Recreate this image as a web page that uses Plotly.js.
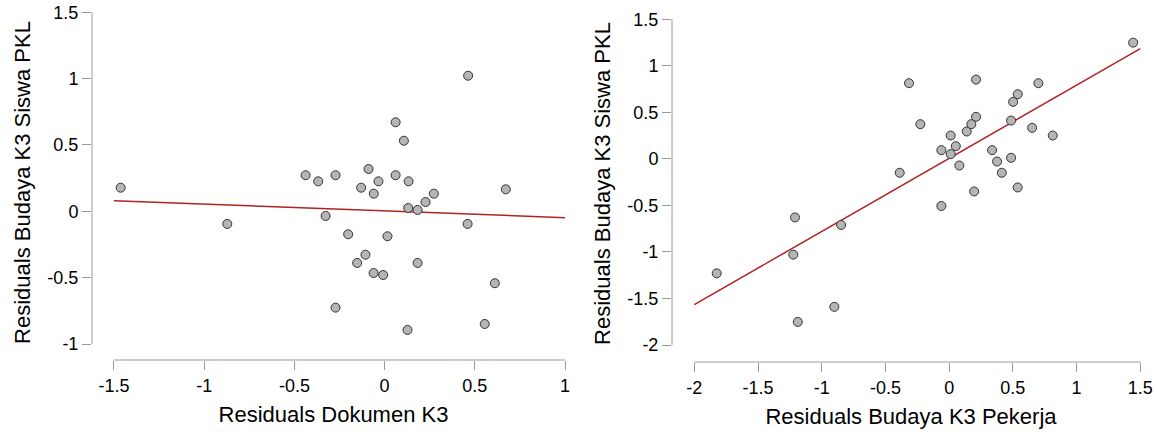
<!DOCTYPE html>
<html>
<head>
<meta charset="utf-8">
<script src="https://cdn.plot.ly/plotly-3.0.1.min.js"></script>
<style>
  html, body { margin: 0; padding: 0; background: #fff; }
  #chart { width: 1157px; height: 434px; }
</style>
</head>
<body>
<div id="chart"></div>
<script>
// ---- Data ----
const leftX = [-1.463,-0.872,-0.438,-0.368,-0.272,-0.327,-0.272,-0.202,-0.130,-0.089,-0.060,-0.034,-0.106,-0.152,-0.061,-0.008,0.016,0.061,0.107,0.061,0.133,0.131,0.183,0.183,0.127,0.227,0.273,0.463,0.460,0.611,0.555,0.672];
const leftY = [0.178,-0.095,0.272,0.226,0.272,-0.035,-0.726,-0.173,0.178,0.319,0.133,0.226,-0.327,-0.389,-0.465,-0.480,-0.188,0.671,0.532,0.272,0.226,0.025,0.010,-0.389,-0.894,0.070,0.133,1.022,-0.095,-0.542,-0.849,0.166];
const leftFitX = [-1.5, 1.0];
const leftFitY = [0.080, -0.048];

const rightX = [-1.824,-1.210,-1.223,-1.188,-0.848,-0.901,-0.388,-0.315,-0.226,-0.061,-0.061,0.012,0.012,0.052,0.080,0.138,0.174,0.211,0.211,0.196,0.337,0.376,0.413,0.486,0.486,0.502,0.538,0.538,0.651,0.700,0.813,1.444];
const rightY = [-1.230,-0.629,-1.029,-1.752,-0.710,-1.590,-0.149,0.813,0.373,0.094,-0.506,0.251,0.051,0.137,-0.071,0.294,0.373,0.452,0.852,-0.350,0.094,-0.028,-0.149,0.012,0.412,0.613,0.695,-0.307,0.334,0.813,0.251,1.249];
const rightFitX = [-2.0, 1.5];
const rightFitY = [-1.566, 1.185];

const leftXTicks = [-1.5, -1, -0.5, 0, 0.5, 1];
const leftYTicks = [-1, -0.5, 0, 0.5, 1, 1.5];
const rightXTicks = [-2, -1.5, -1, -0.5, 0, 0.5, 1, 1.5];
const rightYTicks = [-2, -1.5, -1, -0.5, 0, 0.5, 1, 1.5];

const xTitleLeft = "Residuals Dokumen K3";
const xTitleRight = "Residuals Budaya K3 Pekerja";
const yTitle = "Residuals Budaya K3 Siswa PKL";

// ---- Styling ----
const W = 1157, H = 434;
const FONT = "Liberation Sans, Arial, sans-serif";
const AXIS_COL = "#9a9a9a";
const markerStyle = { size: 9, color: "#b5b5b5", line: { color: "#333333", width: 1 } };
const lineStyle = { color: "#b22222", width: 1.5 };

function lbl(v) { return String(v); }

const traces = [
  { x: leftFitX, y: leftFitY, xaxis: "x", yaxis: "y", mode: "lines", line: lineStyle, hoverinfo: "skip" },
  { x: leftX, y: leftY, xaxis: "x", yaxis: "y", mode: "markers", marker: markerStyle },
  { x: rightFitX, y: rightFitY, xaxis: "x2", yaxis: "y2", mode: "lines", line: lineStyle, hoverinfo: "skip" },
  { x: rightX, y: rightY, xaxis: "x2", yaxis: "y2", mode: "markers", marker: markerStyle }
];

function axisCommon(tickvals, extra) {
  return Object.assign({
    tickmode: "array",
    tickvals: tickvals,
    ticktext: tickvals.map(lbl),
    ticks: "outside",
    ticklen: 9,
    tickwidth: 1,
    tickcolor: AXIS_COL,
    showline: false,
    showgrid: false,
    zeroline: false,
    tickfont: { family: FONT, size: 18, color: "#000" },
    fixedrange: true
  }, extra);
}

// plot-area pixel boxes
const L1 = 92, R1 = 575, L2 = 672, R2 = 1150;
const T = 5, B1 = 360, B2 = 362;

const layout = {
  width: W, height: H,
  margin: { l: 0, r: 0, t: 0, b: 0 },
  paper_bgcolor: "#fff",
  plot_bgcolor: "#fff",
  showlegend: false,
  font: { family: FONT, color: "#000" },
  xaxis: axisCommon(leftXTicks, {
    domain: [L1 / W, R1 / W],
    range: [-1.5 - 22 / 180.5, 1 + 10 / 180.5],
    anchor: "y",
    title: { text: xTitleLeft, font: { family: FONT, size: 22, color: "#000" }, standoff: 12 }
  }),
  yaxis: axisCommon(leftYTicks, {
    domain: [1 - B1 / H, 1 - T / H],
    range: [-1 - 16 / 132.7, 1.5 + 7.3 / 132.7],
    anchor: "x",
    title: { text: yTitle, font: { family: FONT, size: 22, color: "#000" }, standoff: 10 }
  }),
  xaxis2: axisCommon(rightXTicks, {
    domain: [L2 / W, R2 / W],
    range: [-2 - 22.3 / 127.43, 1.5 + 9.7 / 127.43],
    anchor: "y2",
    title: { text: xTitleRight, font: { family: FONT, size: 22, color: "#000" }, standoff: 12 }
  }),
  yaxis2: axisCommon(rightYTicks, {
    domain: [1 - B2 / H, 1 - T / H],
    range: [-2 - 17 / 93.14, 1.5 + 14.3 / 93.14],
    anchor: "x2",
    title: { text: yTitle, font: { family: FONT, size: 22, color: "#000" }, standoff: 10 }
  }),
  shapes: [
    // detached axis lines spanning only the tick range
    { type: "line", xref: "x domain", yref: "y", x0: 0, x1: 0, y0: leftYTicks[0], y1: leftYTicks[leftYTicks.length - 1], line: { color: AXIS_COL, width: 1 } },
    { type: "line", xref: "x", yref: "y domain", x0: leftXTicks[0], x1: leftXTicks[leftXTicks.length - 1], y0: 0, y1: 0, line: { color: AXIS_COL, width: 1 } },
    { type: "line", xref: "x2 domain", yref: "y2", x0: 0, x1: 0, y0: rightYTicks[0], y1: rightYTicks[rightYTicks.length - 1], line: { color: AXIS_COL, width: 1 } },
    { type: "line", xref: "x2", yref: "y2 domain", x0: rightXTicks[0], x1: rightXTicks[rightXTicks.length - 1], y0: 0, y1: 0, line: { color: AXIS_COL, width: 1 } }
  ]
};

Plotly.newPlot("chart", traces, layout, { displayModeBar: false, staticPlot: true });
</script>
</body>
</html>
